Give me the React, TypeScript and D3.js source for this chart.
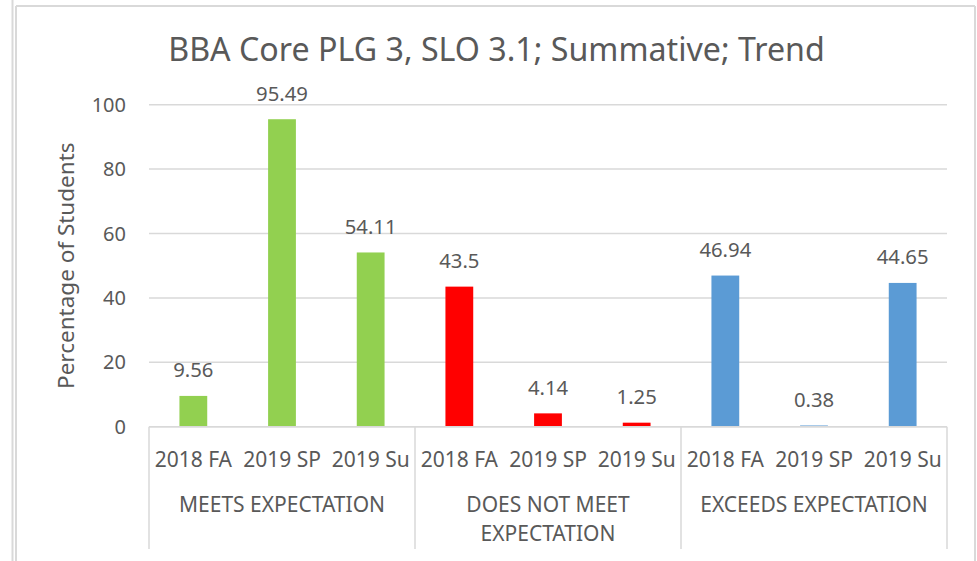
import React from "react";
import * as d3 from "d3";

const title = "BBA Core PLG 3, SLO 3.1; Summative; Trend";
const yAxisTitle = "Percentage of Students";
const terms = ["2018 FA", "2019 SP", "2019 Su"];
const groupLabels = [["MEETS EXPECTATION"], ["DOES NOT MEET", "EXPECTATION"], ["EXCEEDS EXPECTATION"]];
const meetsValues = [9.56, 95.49, 54.11];
const doesNotMeetValues = [43.5, 4.14, 1.25];
const exceedsValues = [46.94, 0.38, 44.65];
const seriesColors = ["#92D050", "#FF0000", "#5B9BD5"];
const yTicks = [0, 20, 40, 60, 80, 100];

const W = 977;
const H = 561;
const plotLeft = 149;
const plotRight = 947;
const plotTop = 104.7;
const plotBottom = 426.7;
const textColor = "#595959";
const gridColor = "#D9D9D9";
const FONT = "'Noto Sans', 'Open Sans', sans-serif";

export default function App() {
  const groupValues = [meetsValues, doesNotMeetValues, exceedsValues];
  const rows = groupValues.flatMap((vals, g) =>
    vals.map((v, i) => ({ key: `${g}-${i}`, group: g, term: terms[i], value: v, color: seriesColors[g] }))
  );
  const x = d3.scaleBand<string>().domain(rows.map((r) => r.key)).range([plotLeft, plotRight]).paddingInner(0).paddingOuter(0);
  const y = d3.scaleLinear().domain([0, 100]).range([plotBottom, plotTop]);
  const bw = x.bandwidth();
  const barW = bw / 3.19;
  const groupW = bw * 3;
  const sepBottom = 549;

  return (
    <svg width={W} height={H} style={{ position: "absolute", left: 0, top: 0, background: "#fff" }} fontFamily={FONT}>
      <rect x={0} y={0} width={W} height={H} fill="#fff" />
      {/* frame lines */}
      <line x1={12.5} y1={0} x2={12.5} y2={H} stroke={gridColor} strokeWidth={2} />
      <line x1={16} y1={6} x2={16} y2={H} stroke={gridColor} strokeWidth={2} />
      <line x1={16} y1={6} x2={975} y2={6} stroke={gridColor} strokeWidth={2} />
      <line x1={975} y1={6} x2={975} y2={H} stroke={gridColor} strokeWidth={2} />

      <text x={496.5} y={61} textAnchor="middle" fontSize={32.2} fill={textColor}>{title}</text>

      {/* gridlines */}
      {yTicks.map((t) => (
        <g key={t}>
          <line x1={plotLeft} x2={plotRight} y1={y(t)} y2={y(t)} stroke={gridColor} strokeWidth={1.5} />
          <text x={126} y={y(t) + 7} textAnchor="end" fontSize={20} fill={textColor}>{t}</text>
        </g>
      ))}

      <text transform={`translate(74, ${(plotTop + plotBottom) / 2}) rotate(-90)`} textAnchor="middle" fontSize={22.5} fill={textColor}>
        {yAxisTitle}
      </text>

      {/* bars */}
      {rows.map((r) => {
        const cx = (x(r.key) as number) + bw / 2;
        return (
          <g key={r.key}>
            <rect x={cx - barW / 2} y={y(r.value)} width={barW} height={plotBottom - y(r.value)} fill={r.color} />
            <text x={cx} y={y(r.value) - 18.5} textAnchor="middle" fontSize={20.3} fill={textColor}>{r.value}</text>
            <text x={cx} y={466.5} textAnchor="middle" fontSize={21} fill={textColor}>{r.term}</text>
          </g>
        );
      })}

      {/* category axis line and separators */}
      <line x1={plotLeft} x2={plotRight} y1={plotBottom} y2={plotBottom} stroke={gridColor} strokeWidth={1.5} />
      {[0, 1, 2, 3].map((g) => (
        <line key={g} x1={plotLeft + g * groupW} x2={plotLeft + g * groupW} y1={plotBottom} y2={sepBottom} stroke={gridColor} strokeWidth={1.5} />
      ))}
      {groupLabels.map((lines, g) => (
        <text key={g} x={plotLeft + g * groupW + groupW / 2} textAnchor="middle" fontSize={21} fill={textColor}>
          {lines.map((l, i) => (
            <tspan key={i} x={plotLeft + g * groupW + groupW / 2} y={511.5 + i * 29}>{l}</tspan>
          ))}
        </text>
      ))}
    </svg>
  );
}
